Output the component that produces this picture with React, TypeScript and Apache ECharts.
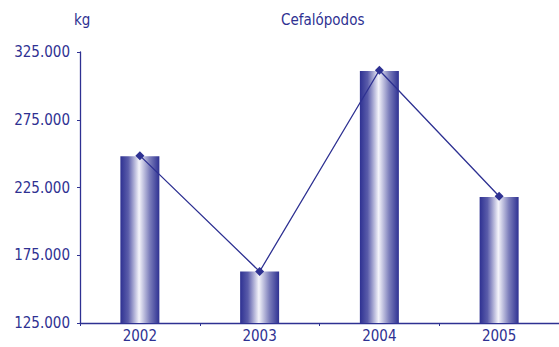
import React, { useEffect, useRef } from "react";
import * as echarts from "echarts";

const categories = ["2002", "2003", "2004", "2005"];
const barValues = [248000, 163000, 311000, 218000];
const lineValues = [248500, 163000, 311500, 218500];
const yTicks = [125000, 175000, 225000, 275000, 325000];

const BLUE = "#2E3192";
const FONT = "'DejaVu Sans Condensed', 'Roboto', sans-serif";

const fmt = (v: number) => {
  const s = Math.round(v).toString();
  return s.replace(/\B(?=(\d{3})+(?!\d))/g, ".");
};

export default function App() {
  const ref = useRef<HTMLDivElement>(null);
  useEffect(() => {
    if (!ref.current) return;
    const chart = echarts.init(ref.current, undefined, { renderer: "svg" });
    chart.setOption({
      animation: false,
      graphic: [
        { type: "text", left: 74, top: 12, style: { text: "kg", fill: BLUE, font: `15px ${FONT}` } },
        { type: "text", left: 281, top: 12, style: { text: "Cefalópodos", fill: BLUE, font: `15px ${FONT}` } },
      ],
      grid: { left: 80, top: 52, width: 498, height: 271 },
      xAxis: {
        type: "category",
        data: categories,
        axisLine: { lineStyle: { color: BLUE, width: 1.3 } },
        axisTick: { show: true, inside: false, length: 3, lineStyle: { color: BLUE } },
        axisLabel: { color: BLUE, fontFamily: FONT, fontSize: 15, margin: 5 },
      },
      yAxis: {
        type: "value",
        min: yTicks[0],
        max: yTicks[yTicks.length - 1],
        interval: 50000,
        axisLine: { show: true, lineStyle: { color: BLUE, width: 1.3 } },
        axisTick: { show: true, length: 3, lineStyle: { color: BLUE } },
        splitLine: { show: false },
        axisLabel: { color: BLUE, fontFamily: FONT, fontSize: 15, margin: 10, formatter: (v: number) => fmt(v) },
      },
      series: [
        {
          type: "bar",
          data: barValues,
          barWidth: 39,
          itemStyle: {
            color: new echarts.graphic.LinearGradient(0, 0, 1, 0, [
              { offset: 0, color: "#2E3192" },
              { offset: 0.2, color: "#5A5CAA" },
              { offset: 0.48, color: "#F4F4FA" },
              { offset: 0.75, color: "#7C7EBB" },
              { offset: 1, color: "#2E3192" },
            ]),
          },
        },
        {
          type: "line",
          data: lineValues,
          symbol: "diamond",
          symbolSize: 9,
          lineStyle: { color: BLUE, width: 1.3 },
          itemStyle: { color: BLUE },
        },
      ],
    });
    return () => chart.dispose();
  }, []);
  return <div ref={ref} style={{ width: 559, height: 347, position: "absolute", left: 0, top: 0 }} />;
}
